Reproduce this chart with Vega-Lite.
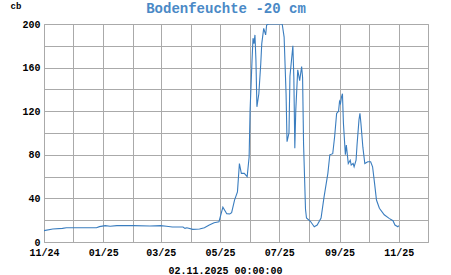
{
  "$schema": "https://vega.github.io/schema/vega-lite/v6.json",
  "width": 384,
  "height": 218,
  "autosize": "none",
  "padding": {"left": 44, "top": 24, "right": 23, "bottom": 33},
  "background": "white",
  "config": {
    "view": {"stroke": "#aaaaaa", "strokeWidth": 1},
    "font": "Liberation Mono"
  },
  "title": {
    "text": "Bodenfeuchte -20 cm",
    "font": "Liberation Mono",
    "fontSize": 14,
    "fontWeight": "bold",
    "color": "#4a89c6",
    "anchor": "middle",
    "frame": "group",
    "baseline": "alphabetic",
    "dx": -10,
    "dy": 26,
    "offset": 0
  },
  "data": {
    "values": [
      {"date": "2024-11-01", "v": 10.4},
      {"date": "2024-11-10", "v": 11.9},
      {"date": "2024-11-20", "v": 12.5},
      {"date": "2024-11-24", "v": 13.1},
      {"date": "2024-12-25", "v": 13.1},
      {"date": "2024-12-28", "v": 14.1},
      {"date": "2025-01-03", "v": 15.0},
      {"date": "2025-01-08", "v": 14.4},
      {"date": "2025-01-15", "v": 15.0},
      {"date": "2025-02-01", "v": 15.0},
      {"date": "2025-02-18", "v": 14.7},
      {"date": "2025-03-01", "v": 15.0},
      {"date": "2025-03-07", "v": 14.4},
      {"date": "2025-03-13", "v": 13.8},
      {"date": "2025-03-24", "v": 13.8},
      {"date": "2025-03-26", "v": 12.5},
      {"date": "2025-03-28", "v": 13.1},
      {"date": "2025-04-03", "v": 11.6},
      {"date": "2025-04-10", "v": 11.9},
      {"date": "2025-04-15", "v": 13.1},
      {"date": "2025-04-20", "v": 15.6},
      {"date": "2025-04-25", "v": 17.7},
      {"date": "2025-04-30", "v": 18.6},
      {"date": "2025-05-04", "v": 32},
      {"date": "2025-05-08", "v": 26},
      {"date": "2025-05-11", "v": 25.7},
      {"date": "2025-05-13", "v": 27},
      {"date": "2025-05-16", "v": 38.5},
      {"date": "2025-05-19", "v": 46},
      {"date": "2025-05-21", "v": 72},
      {"date": "2025-05-23", "v": 63},
      {"date": "2025-05-26", "v": 63},
      {"date": "2025-05-29", "v": 60},
      {"date": "2025-05-31", "v": 78},
      {"date": "2025-06-01", "v": 121},
      {"date": "2025-06-03", "v": 167},
      {"date": "2025-06-04", "v": 187},
      {"date": "2025-06-05", "v": 182},
      {"date": "2025-06-06", "v": 190},
      {"date": "2025-06-07", "v": 167},
      {"date": "2025-06-08", "v": 124},
      {"date": "2025-06-10", "v": 136},
      {"date": "2025-06-12", "v": 164},
      {"date": "2025-06-13", "v": 182},
      {"date": "2025-06-15", "v": 196},
      {"date": "2025-06-17", "v": 190},
      {"date": "2025-06-18", "v": 199},
      {"date": "2025-06-20", "v": 200},
      {"date": "2025-07-04", "v": 200},
      {"date": "2025-07-06", "v": 188},
      {"date": "2025-07-08", "v": 136},
      {"date": "2025-07-09", "v": 92},
      {"date": "2025-07-11", "v": 100},
      {"date": "2025-07-12", "v": 152},
      {"date": "2025-07-15", "v": 180},
      {"date": "2025-07-16", "v": 151},
      {"date": "2025-07-17", "v": 86},
      {"date": "2025-07-18", "v": 121},
      {"date": "2025-07-20", "v": 158},
      {"date": "2025-07-22", "v": 148},
      {"date": "2025-07-24", "v": 161},
      {"date": "2025-07-25", "v": 151},
      {"date": "2025-07-26", "v": 90},
      {"date": "2025-07-28", "v": 30},
      {"date": "2025-07-29", "v": 22},
      {"date": "2025-08-02", "v": 19},
      {"date": "2025-08-06", "v": 14},
      {"date": "2025-08-09", "v": 15.6},
      {"date": "2025-08-13", "v": 22},
      {"date": "2025-08-16", "v": 41},
      {"date": "2025-08-20", "v": 63},
      {"date": "2025-08-22", "v": 80},
      {"date": "2025-08-25", "v": 81},
      {"date": "2025-08-27", "v": 97},
      {"date": "2025-08-29", "v": 118},
      {"date": "2025-08-31", "v": 120},
      {"date": "2025-09-01", "v": 129},
      {"date": "2025-09-02", "v": 127},
      {"date": "2025-09-03", "v": 133},
      {"date": "2025-09-04", "v": 136},
      {"date": "2025-09-05", "v": 109},
      {"date": "2025-09-07", "v": 80},
      {"date": "2025-09-08", "v": 89},
      {"date": "2025-09-10", "v": 72},
      {"date": "2025-09-12", "v": 75},
      {"date": "2025-09-13", "v": 70.6},
      {"date": "2025-09-15", "v": 72},
      {"date": "2025-09-16", "v": 69},
      {"date": "2025-09-18", "v": 75},
      {"date": "2025-09-19", "v": 89},
      {"date": "2025-09-21", "v": 112},
      {"date": "2025-09-22", "v": 118},
      {"date": "2025-09-23", "v": 109},
      {"date": "2025-09-25", "v": 87},
      {"date": "2025-09-27", "v": 72},
      {"date": "2025-09-30", "v": 73.6},
      {"date": "2025-10-03", "v": 73.6},
      {"date": "2025-10-05", "v": 69},
      {"date": "2025-10-07", "v": 54},
      {"date": "2025-10-09", "v": 38.5},
      {"date": "2025-10-12", "v": 31},
      {"date": "2025-10-17", "v": 25},
      {"date": "2025-10-22", "v": 21.7},
      {"date": "2025-10-26", "v": 19.5},
      {"date": "2025-10-28", "v": 15.6},
      {"date": "2025-10-31", "v": 14},
      {"date": "2025-11-01", "v": 15}
    ]
  },
  "mark": {"type": "line", "color": "#3a7dbf", "strokeWidth": 1.1, "clip": true},
  "encoding": {
    "x": {
      "field": "date",
      "type": "temporal",
      "scale": {"domain": ["2024-11-01T00:00:00", "2025-12-01T00:00:00"]},
      "axis": {
        "values": ["2024-11-01T00:00:00","2024-12-01T00:00:00","2025-01-01T00:00:00","2025-02-01T00:00:00","2025-03-01T00:00:00","2025-04-01T00:00:00","2025-05-01T00:00:00","2025-06-01T00:00:00","2025-07-01T00:00:00","2025-08-01T00:00:00","2025-09-01T00:00:00","2025-10-01T00:00:00","2025-11-01T00:00:00","2025-12-01T00:00:00"],
        "labelExpr": "month(datum.value) % 2 == 0 ? timeFormat(datum.value, '%m/%y') : ''",
        "grid": true,
        "gridColor": "#aaaaaa",
        "gridWidth": 1,
        "gridOpacity": 1,
        "ticks": false,
        "domain": false,
        "labelFont": "Liberation Mono",
        "labelFontSize": 10,
        "labelFontWeight": "bold",
        "labelColor": "#000000",
        "labelPadding": 5,
        "labelFlush": false,
        "labelOverlap": false,
        "title": "02.11.2025 00:00:00",
        "titleFont": "Liberation Mono",
        "titleFontSize": 10,
        "titleFontWeight": "bold",
        "titleColor": "#000000",
        "titleX": 181,
        "titleY": 31,
        "titleAnchor": null,
        "titleAlign": "center",
        "titleBaseline": "alphabetic"
      }
    },
    "y": {
      "field": "v",
      "type": "quantitative",
      "scale": {"domain": [0, 200], "nice": false},
      "axis": {
        "values": [0,20,40,60,80,100,120,140,160,180,200],
        "labelExpr": "datum.value % 40 == 0 ? datum.label : ''",
        "grid": true,
        "gridColor": "#aaaaaa",
        "gridWidth": 1,
        "gridOpacity": 1,
        "ticks": false,
        "domain": false,
        "labelFont": "Liberation Mono",
        "labelFontSize": 10,
        "labelFontWeight": "bold",
        "labelColor": "#000000",
        "labelPadding": 4,
        "labelOverlap": false,
        "title": "cb",
        "titleFont": "Liberation Mono",
        "titleFontSize": 9,
        "titleFontWeight": "bold",
        "titleColor": "#000000",
        "titleAngle": 0,
        "titleX": -34,
        "titleY": -16,
        "titleAlign": "left",
        "titleBaseline": "alphabetic"
      }
    }
  }
}
